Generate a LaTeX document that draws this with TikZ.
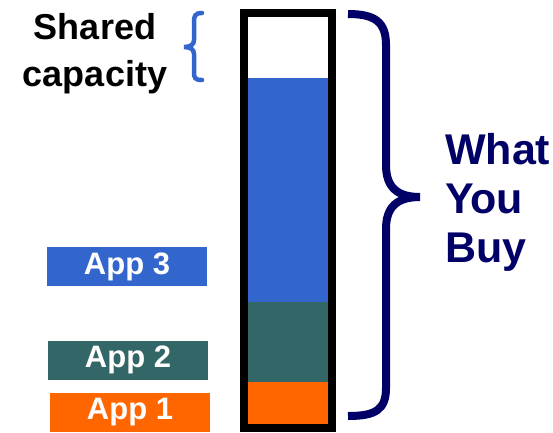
\documentclass[tikz,border=0pt]{standalone}
\usepackage{fontspec}
\setmainfont{Liberation Sans}
\usepackage{tikz}

\definecolor{appblue}{HTML}{3366CC}
\definecolor{appteal}{HTML}{336666}
\definecolor{apporange}{HTML}{FF6600}
\definecolor{buynavy}{HTML}{000066}

\begin{document}
\begin{tikzpicture}[x=1pt, y=-1pt,
    applabel/.style={minimum width=160pt, minimum height=39pt, inner sep=0pt,
      text=white, font=\fontsize{31}{31}\selectfont\bfseries},
    bigtext/.style={align=left, inner sep=0pt, text=buynavy,
      font=\fontsize{43}{49}\selectfont\bfseries}]
  \useasboundingbox (0,0) rectangle (553,432);

  % Define fills of the bar
  \fill[appblue] (244,78) rectangle (332,302);
  \fill[appteal] (244,302) rectangle (332,382);
  \fill[apporange] (244,382) rectangle (332,428);
  \draw[line width=8pt] (244,13) rectangle (332,428);

  % Define nodes
  \node[applabel, fill=appblue] (App3) at (127,266.5) {App 3};
  \node[applabel, fill=appteal] (App2) at (128,360) {App 2};
  \node[applabel, fill=apporange] (App1) at (130,412) {App 1};
  \node[align=center, inner sep=0pt, font=\fontsize{36}{47}\selectfont\bfseries]
    (Shared) at (95,54) {Shared\\capacity};
  \node[bigtext, anchor=west] (Buy) at (445,202) {What\\You\\Buy};

  % Define braces
  \draw[appblue, line width=4.5pt, line cap=round]
    (202,13) .. controls (195,13) and (194,16) .. (194,22) -- (194,40)
    .. controls (194,45) and (190,47) .. (184,47)
    .. controls (190,47) and (194,49) .. (194,54) -- (194,72)
    .. controls (194,78) and (195,80) .. (202,80);
  \draw[buynavy, line width=8pt]
    (348,14) .. controls (375,14) and (386,22) .. (386,45) -- (386,165)
    .. controls (386,188) and (398,197) .. (420,197)
    .. controls (398,197) and (386,206) .. (386,229) -- (386,388)
    .. controls (386,410) and (375,416) .. (348,416);
\end{tikzpicture}
\end{document}
